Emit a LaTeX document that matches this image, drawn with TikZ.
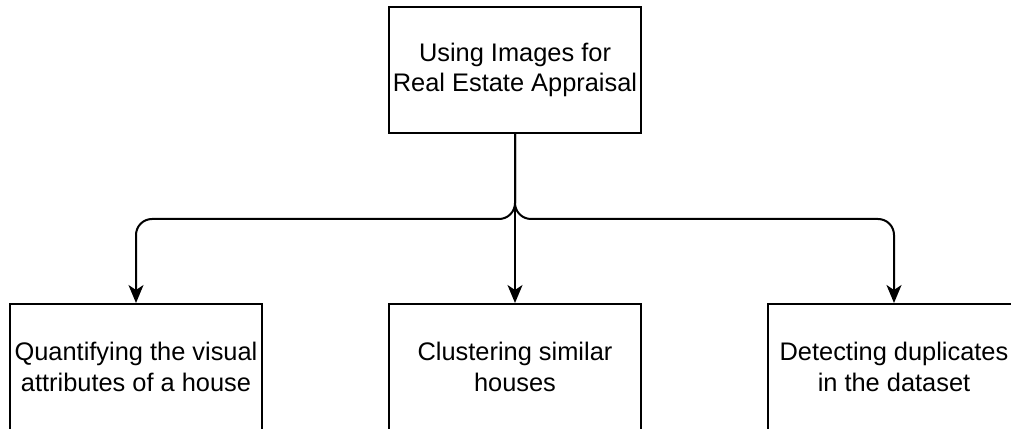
\documentclass[tikz,border=0pt]{standalone}
\usepackage{fontspec}
\setmainfont{Liberation Sans}
\usepackage{tikz}
\usetikzlibrary{arrows.meta, positioning}

\begin{document}
\begin{tikzpicture}[x=0.5pt, y=0.5pt,
    node distance=84.5pt and 62.5pt,
    box/.style={rectangle, draw, line width=1pt, minimum width=126pt, minimum height=63pt, inner sep=0pt, align=center, font=\fontsize{12.7}{15.2}\selectfont},
    arrow/.style={-{Stealth[length=9pt, width=7.5pt, inset=2.5pt]}, line width=1pt}
]
\useasboundingbox (0,0) rectangle (1011,428);

\node[box] (appraisal) at (515,358) {Using Images for\\Real Estate Appraisal};
\node[box, below=of appraisal] (cluster) {Clustering similar\\houses};
\node[box, left=of cluster] (visual) {Quantifying the visual\\attributes of a house};
\node[box, right=of cluster] (dupes) {Detecting duplicates\\in the dataset};
\coordinate[below=42.5pt of appraisal.south] (split);

\draw[arrow, rounded corners=8pt] (appraisal.south) -- (split) -| (visual.north);
\draw[arrow, rounded corners=8pt] (appraisal.south) -- (split) -| (dupes.north);
\draw[arrow] (appraisal) -- (cluster);

\end{tikzpicture}
\end{document}
